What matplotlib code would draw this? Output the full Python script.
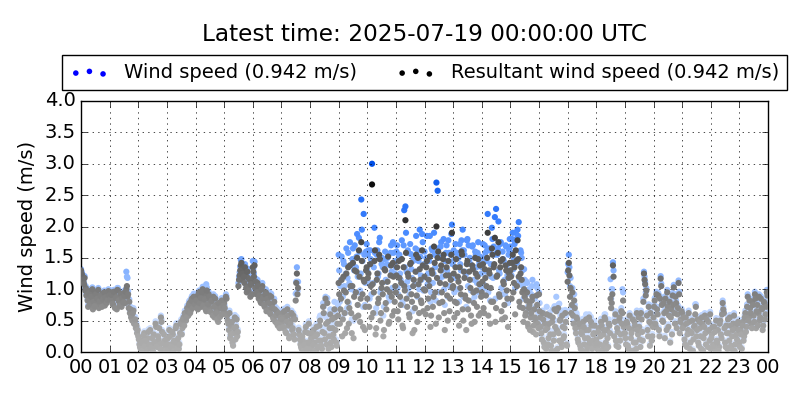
import numpy as np
import matplotlib
matplotlib.use('Agg')
import matplotlib.pyplot as plt
from matplotlib.colors import LinearSegmentedColormap

# samples, 24 per hour (every 2.5 min, on the :00 grid)
resultant = [
    # 00
    1.30, 1.22, 1.12, 1.18, 1.02, 0.95, 0.72, 0.97, 0.84, 0.92, 0.68, 0.87, 0.95, 0.78, 0.90, 0.70, 0.76, 0.88, 0.93, 0.82, 0.74, 0.79, 0.91, 0.97,
    # 01
    0.88, 0.95, 0.82, 0.75, 0.92, 0.86, 0.68, 0.98, 0.80, 0.90, 0.72, 0.85, 0.94, 0.78, 1.00, 0.88, 0.70, 0.62, 0.55, 0.50, 0.66, 0.48, 0.38, 0.30,
    # 02
    0.25, 0.12, 0.05, 0.18, 0.08, 0.30, 0.02, 0.14, 0.22, 0.06, 0.35, 0.10, 0.03, 0.28, 0.15, 0.40, 0.08, 0.20, 0.12, 0.55, 0.32, 0.04, 0.18, 0.10,
    # 03
    0.06, 0.22, 0.35, 0.12, 0.02, 0.28, 0.18, 0.08, 0.42, 0.15, 0.05, 0.30, 0.48, 0.38, 0.55, 0.62, 0.50, 0.70, 0.58, 0.78, 0.66, 0.85, 0.72, 0.80,
    # 04
    0.75, 0.88, 0.68, 0.95, 0.82, 0.72, 1.00, 0.78, 0.90, 0.65, 0.85, 0.92, 0.70, 0.80, 0.62, 0.88, 0.55, 0.75, 0.66, 0.48, 0.72, 0.60, 0.82, 0.68,
    # 05
    0.78, 0.62, 0.85, 0.50, 0.35, 0.22, 0.42, 0.15, 0.30, 0.55, 0.40, 0.25, 1.05, 1.22, 1.38, 1.15, 1.30, 1.10, 1.25, 0.95, 1.18, 1.05, 0.88, 1.12,
    # 06
    1.35, 1.20, 1.02, 0.92, 1.10, 0.85, 0.98, 0.78, 1.05, 0.88, 0.72, 0.95, 0.82, 0.68, 0.90, 0.60, 0.75, 0.55, 0.80, 0.48, 0.65, 0.42, 0.58, 0.50,
    # 07
    0.45, 0.62, 0.38, 0.55, 0.30, 0.68, 0.42, 0.25, 0.50, 0.35, 0.58, 0.20, 0.82, 1.25, 1.02, 0.28, 0.12, 0.05, 0.18, 0.08, 0.32, 0.02, 0.15, 0.45,
    # 08
    0.10, 0.22, 0.04, 0.35, 0.15, 0.02, 0.28, 0.08, 0.42, 0.18, 0.05, 0.72, 0.30, 0.85, 0.12, 0.48, 0.25, 0.60, 0.08, 0.38, 0.20, 0.55, 0.15, 0.45,
    # 09
    1.10, 0.45, 0.85, 0.25, 1.20, 0.62, 0.95, 0.38, 1.35, 0.70, 1.05, 0.30, 1.42, 0.88, 0.55, 1.28, 0.75, 1.62, 0.48, 1.75, 0.92, 1.15, 0.35, 1.30,
    # 10
    0.85, 1.25, 0.40, 1.05, 2.67, 0.62, 1.45, 0.28, 1.15, 0.78, 1.55, 0.50, 1.02, 0.92, 0.35, 1.30, 0.68, 1.12, 0.45, 0.95, 1.38, 0.58, 1.20, 0.80,
    # 11
    0.95, 1.35, 0.52, 1.18, 0.75, 1.48, 0.38, 1.05, 2.10, 0.85, 1.25, 0.60, 1.40, 0.92, 0.30, 1.15, 0.70, 1.55, 0.48, 1.08, 1.32, 0.82, 1.62, 0.65,
    # 12
    1.20, 0.60, 1.45, 0.85, 1.05, 0.40, 1.30, 0.72, 1.68, 0.95, 2.00, 1.50, 0.55, 1.10, 1.38, 0.80, 1.55, 0.35, 1.22, 0.90, 1.45, 0.65, 1.15, 1.90,
    # 13
    1.05, 0.55, 1.35, 0.78, 1.20, 0.42, 1.02, 1.60, 0.68, 1.28, 0.90, 0.35, 1.45, 0.82, 1.15, 0.58, 1.38, 0.95, 0.48, 1.25, 0.72, 1.48, 1.08, 0.62,
    # 14
    0.95, 1.40, 0.62, 1.18, 1.05, 1.90, 1.30, 0.45, 0.80, 1.55, 1.35, 1.82, 0.70, 1.22, 1.75, 0.88, 1.45, 0.52, 1.12, 0.75, 1.38, 0.98, 0.40, 1.25,
    # 15
    1.30, 0.85, 1.55, 1.10, 0.60, 1.45, 1.78, 1.20, 0.72, 1.35, 0.95, 0.48, 0.88, 0.62, 0.95, 0.40, 0.75, 0.55, 0.82, 0.32, 0.68, 0.50, 0.90, 0.45,
    # 16
    0.92, 0.55, 0.30, 0.62, 0.15, 0.45, 0.05, 0.38, 0.22, 0.58, 0.10, 0.48, 0.28, 0.68, 0.02, 0.35, 0.70, 0.18, 0.52, 0.08, 0.40, 0.25, 0.62, 0.12,
    # 17
    1.12, 1.42, 0.88, 0.62, 0.95, 0.45, 0.70, 0.30, 0.52, 0.15, 0.40, 0.05, 0.28, 0.48, 0.12, 0.35, 0.02, 0.22, 0.55, 0.10, 0.42, 0.18, 0.30, 0.08,
    # 18
    0.20, 0.05, 0.38, 0.12, 0.48, 0.02, 0.28, 0.55, 0.15, 0.35, 0.08, 0.42, 0.85, 0.78, 1.38, 0.25, 0.60, 0.10, 0.32, 0.50, 0.18, 0.65, 0.62, 0.40,
    # 19
    0.30, 0.12, 0.45, 0.05, 0.58, 0.22, 0.35, 0.02, 0.48, 0.15, 0.62, 0.28, 0.40, 0.08, 0.52, 0.18, 1.25, 1.08, 0.98, 0.35, 0.72, 0.10, 0.45, 0.25,
    # 20
    0.55, 0.82, 0.40, 0.68, 0.90, 0.25, 1.17, 0.75, 0.48, 0.62, 0.85, 0.35, 0.72, 0.58, 0.15, 0.68, 0.90, 1.03, 0.45, 0.78, 0.60, 1.10, 0.30, 0.52,
    # 21
    0.62, 0.42, 0.20, 0.55, 0.08, 0.35, 0.48, 0.15, 0.30, 0.02, 0.40, 0.60, 0.25, 0.52, 0.10, 0.38, 0.05, 0.45, 0.22, 0.58, 0.12, 0.33, 0.48, 0.18,
    # 22
    0.05, 0.28, 0.12, 0.40, 0.02, 0.18, 0.35, 0.08, 0.50, 0.22, 0.78, 0.62, 0.15, 0.42, 0.05, 0.30, 0.55, 0.10, 0.25, 0.45, 0.02, 0.38, 0.20, 0.48,
    # 23
    0.15, 0.35, 0.05, 0.48, 0.25, 0.62, 0.40, 0.88, 0.55, 0.70, 0.45, 0.80, 0.58, 0.92, 0.38, 0.75, 0.62, 0.50, 0.85, 0.68, 0.42, 0.78, 0.60, 0.95,
]

wind = [
    # 00
    1.32, 1.25, 1.14, 1.21, 1.05, 0.97, 0.75, 1.00, 0.86, 0.95, 0.70, 0.90, 0.98, 0.80, 0.93, 0.72, 0.78, 0.91, 0.96, 0.84, 0.77, 0.82, 0.94, 1.00,
    # 01
    0.91, 0.98, 0.85, 0.78, 0.95, 0.89, 0.71, 1.02, 0.83, 0.93, 0.75, 0.88, 0.97, 0.81, 1.28, 1.18, 0.74, 0.66, 0.59, 0.55, 0.70, 0.52, 0.42, 0.33,
    # 02
    0.28, 0.14, 0.07, 0.21, 0.10, 0.33, 0.04, 0.17, 0.25, 0.08, 0.38, 0.13, 0.05, 0.31, 0.18, 0.44, 0.10, 0.23, 0.14, 0.58, 0.35, 0.06, 0.21, 0.12,
    # 03
    0.08, 0.25, 0.38, 0.15, 0.04, 0.31, 0.21, 0.10, 0.46, 0.18, 0.07, 0.33, 0.52, 0.41, 0.59, 0.66, 0.54, 0.74, 0.62, 0.82, 0.70, 0.89, 0.76, 0.84,
    # 04
    0.78, 0.92, 0.71, 0.98, 0.86, 0.75, 1.04, 0.81, 0.94, 1.08, 0.89, 0.96, 0.73, 0.84, 0.66, 0.92, 0.59, 0.79, 0.70, 0.52, 0.76, 0.64, 0.86, 0.72,
    # 05
    0.82, 0.66, 0.89, 0.54, 0.39, 0.25, 0.46, 0.18, 0.34, 0.59, 0.44, 0.29, 1.10, 1.27, 1.47, 1.20, 1.35, 1.15, 1.30, 1.00, 1.23, 1.10, 0.93, 1.17,
    # 06
    1.45, 1.25, 1.07, 0.97, 1.15, 0.90, 1.03, 0.83, 1.10, 0.93, 0.77, 1.00, 0.87, 0.73, 0.95, 0.65, 0.80, 0.60, 0.85, 0.53, 0.70, 0.47, 0.63, 0.55,
    # 07
    0.49, 0.66, 0.42, 0.59, 0.34, 0.72, 0.46, 0.29, 0.54, 0.39, 0.62, 0.24, 0.93, 1.35, 1.12, 0.32, 0.15, 0.08, 0.21, 0.11, 0.36, 0.05, 0.18, 0.49,
    # 08
    0.13, 0.26, 0.07, 0.40, 0.19, 0.05, 0.33, 0.11, 0.55, 0.22, 0.08, 0.78, 0.36, 0.88, 0.16, 0.60, 0.30, 0.68, 0.12, 0.45, 0.25, 0.65, 0.20, 0.58,
    # 09
    1.55, 0.80, 1.15, 0.55, 1.45, 1.05, 1.25, 0.70, 1.58, 1.10, 1.38, 0.52, 1.65, 1.30, 0.95, 1.52, 1.20, 1.82, 0.98, 2.43, 1.45, 2.20, 0.75, 1.60,
    # 10
    1.30, 1.62, 0.85, 1.48, 3.00, 1.10, 1.98, 0.62, 1.55, 1.20, 1.75, 0.95, 1.40, 1.35, 0.72, 1.60, 1.12, 1.50, 0.88, 1.38, 1.70, 1.02, 1.58, 1.25,
    # 11
    1.35, 1.70, 0.92, 1.55, 1.15, 1.78, 0.75, 2.26, 2.32, 1.28, 1.62, 1.02, 1.72, 1.32, 0.65, 1.50, 1.08, 1.85, 0.88, 1.45, 1.95, 1.22, 1.88, 0.98,
    # 12
    1.60, 1.00, 1.85, 1.25, 1.45, 0.80, 1.65, 1.10, 1.90, 1.35, 2.70, 2.57, 0.95, 1.50, 1.75, 1.20, 1.80, 0.75, 1.58, 1.30, 1.78, 1.05, 1.55, 2.03,
    # 13
    1.45, 0.95, 1.72, 1.18, 1.58, 0.80, 1.40, 1.78, 1.95, 1.62, 1.28, 0.72, 1.80, 1.70, 1.50, 0.98, 1.68, 1.32, 0.88, 1.55, 1.10, 1.75, 1.42, 1.02,
    # 14
    1.35, 1.72, 1.02, 1.58, 1.45, 2.20, 1.65, 0.82, 1.20, 1.80, 1.68, 2.15, 2.28, 1.55, 2.08, 1.25, 1.75, 0.92, 1.48, 1.15, 1.70, 1.38, 0.78, 1.62,
    # 15
    1.68, 1.22, 1.90, 1.48, 1.02, 1.80, 1.95, 2.07, 1.12, 1.58, 1.30, 0.85, 1.15, 0.92, 1.10, 0.68, 0.98, 0.80, 1.05, 0.55, 0.88, 0.72, 1.08, 0.65,
    # 16
    0.95, 0.60, 0.34, 0.66, 0.18, 0.50, 0.08, 0.42, 0.26, 0.63, 0.13, 0.52, 0.32, 0.73, 0.05, 0.39, 0.75, 0.77, 0.57, 0.11, 0.44, 0.29, 0.67, 0.15,
    # 17
    1.27, 1.55, 1.05, 0.68, 1.02, 0.50, 0.75, 0.34, 0.57, 0.18, 0.44, 0.08, 0.32, 0.53, 0.15, 0.39, 0.05, 0.26, 0.60, 0.13, 0.46, 0.21, 0.34, 0.11,
    # 18
    0.24, 0.08, 0.42, 0.15, 0.53, 0.05, 0.32, 0.60, 0.18, 0.39, 0.11, 0.46, 1.16, 1.00, 1.43, 0.29, 0.65, 0.13, 0.36, 0.55, 0.21, 0.70, 1.00, 0.44,
    # 19
    0.34, 0.15, 0.49, 0.08, 0.62, 0.26, 0.39, 0.05, 0.52, 0.18, 0.66, 0.32, 0.44, 0.11, 0.56, 0.21, 1.28, 1.12, 1.02, 0.39, 0.76, 0.13, 0.49, 0.29,
    # 20
    0.59, 0.86, 0.44, 0.72, 0.94, 0.29, 1.21, 0.79, 0.52, 0.66, 0.89, 0.39, 0.76, 0.62, 0.18, 0.72, 0.94, 1.07, 0.49, 0.82, 0.64, 1.14, 0.34, 0.56,
    # 21
    0.66, 0.46, 0.24, 0.59, 0.11, 0.39, 0.52, 0.18, 0.34, 0.05, 0.44, 0.76, 0.29, 0.56, 0.13, 0.42, 0.08, 0.49, 0.26, 0.62, 0.15, 0.37, 0.52, 0.21,
    # 22
    0.08, 0.32, 0.15, 0.44, 0.05, 0.21, 0.39, 0.11, 0.54, 0.26, 0.82, 0.66, 0.18, 0.46, 0.08, 0.34, 0.59, 0.13, 0.29, 0.49, 0.05, 0.42, 0.24, 0.52,
    # 23
    0.18, 0.39, 0.08, 0.52, 0.29, 0.66, 0.44, 0.92, 0.59, 0.74, 0.49, 0.84, 0.62, 0.96, 0.42, 0.79, 0.66, 0.54, 0.89, 0.72, 0.46, 0.82, 0.64, 0.99,
]

# the samples in between (1.25 min later than the ones above)
resultant_mid = [
    # 00
    1.25, 1.15, 1.08, 0.98, 0.90, 0.82, 0.94, 0.76, 0.88, 1.00, 0.80, 0.73, 0.92, 0.85, 0.99, 0.81, 0.89, 0.72, 0.84, 0.95, 0.87, 0.78, 0.83, 0.90,
    # 01
    0.84, 0.91, 0.77, 0.96, 0.70, 0.87, 0.99, 0.82, 0.74, 0.93, 0.86, 0.79, 0.90, 0.96, 1.05, 0.92, 0.80, 0.68, 0.58, 0.62, 0.45, 0.52, 0.42, 0.35,
    # 02
    0.20, 0.08, 0.15, 0.02, 0.26, 0.10, 0.18, 0.04, 0.32, 0.12, 0.07, 0.22, 0.00, 0.16, 0.45, 0.09, 0.25, 0.38, 0.05, 0.48, 0.14, 0.28, 0.02, 0.20,
    # 03
    0.12, 0.03, 0.25, 0.09, 0.32, 0.01, 0.16, 0.38, 0.06, 0.22, 0.12, 0.45, 0.28, 0.52, 0.42, 0.60, 0.55, 0.65, 0.75, 0.62, 0.82, 0.70, 0.88, 0.76,
    # 04
    0.82, 0.70, 0.92, 0.78, 0.86, 0.95, 0.74, 0.84, 0.68, 0.98, 0.76, 0.88, 0.64, 0.82, 0.58, 0.72, 0.85, 0.62, 0.52, 0.78, 0.56, 0.70, 0.60, 0.74,
    # 05
    0.70, 0.88, 0.58, 0.45, 0.62, 0.28, 0.48, 0.10, 0.38, 0.20, 0.52, 0.32, 1.15, 1.30, 1.42, 1.25, 1.20, 1.35, 1.02, 1.28, 0.98, 1.15, 1.08, 0.92,
    # 06
    1.28, 1.38, 1.12, 0.95, 1.05, 0.90, 0.80, 1.00, 0.86, 0.75, 0.92, 0.65, 0.85, 0.78, 0.62, 0.88, 0.70, 0.52, 0.68, 0.58, 0.45, 0.62, 0.38, 0.55,
    # 07
    0.52, 0.40, 0.65, 0.32, 0.48, 0.58, 0.22, 0.45, 0.62, 0.38, 0.28, 0.52, 1.10, 0.92, 0.35, 0.20, 0.08, 0.25, 0.02, 0.12, 0.40, 0.05, 0.30, 0.15,
    # 08
    0.05, 0.30, 0.12, 0.02, 0.25, 0.40, 0.08, 0.18, 0.50, 0.10, 0.32, 0.62, 0.20, 0.45, 0.78, 0.05, 0.38, 0.15, 0.52, 0.28, 0.68, 0.35, 0.10, 0.58,
    # 09
    0.92, 0.68, 1.15, 0.52, 0.98, 0.30, 1.25, 0.80, 0.45, 1.38, 0.62, 1.05, 0.22, 1.30, 0.95, 1.50, 0.58, 1.20, 0.85, 1.45, 0.40, 1.12, 0.72, 1.35,
    # 10
    1.18, 0.72, 1.40, 0.55, 1.08, 0.95, 1.62, 0.38, 1.25, 0.85, 1.48, 0.62, 1.10, 0.25, 1.32, 0.78, 1.00, 1.52, 0.48, 1.22, 0.88, 1.42, 0.65, 1.05,
    # 11
    1.22, 0.65, 1.45, 0.88, 1.10, 0.42, 1.35, 0.98, 1.58, 0.72, 1.20, 0.55, 1.42, 0.80, 1.05, 0.35, 1.28, 0.90, 1.50, 0.62, 1.15, 0.78, 1.38, 1.00,
    # 12
    0.98, 1.35, 0.70, 1.15, 1.52, 0.58, 1.25, 0.88, 1.42, 0.45, 1.18, 1.60, 0.78, 1.30, 0.95, 1.48, 0.62, 1.08, 1.35, 0.50, 1.22, 0.85, 1.55, 1.02,
    # 13
    1.25, 0.80, 1.48, 0.62, 1.12, 1.35, 0.92, 1.55, 0.50, 1.18, 0.85, 1.40, 0.68, 1.28, 1.02, 0.45, 1.32, 0.78, 1.50, 0.98, 1.20, 0.58, 1.38, 0.88,
    # 14
    1.12, 0.70, 1.32, 0.90, 1.50, 0.58, 1.25, 1.02, 1.65, 0.80, 1.40, 0.48, 1.20, 1.58, 0.92, 1.35, 0.65, 1.48, 1.08, 0.55, 1.30, 0.85, 1.18, 1.42,
    # 15
    1.20, 1.42, 0.95, 1.35, 1.62, 1.05, 1.48, 0.80, 1.25, 1.15, 0.70, 1.00, 0.58, 0.82, 0.45, 0.70, 0.35, 0.62, 0.88, 0.42, 0.55, 0.28, 0.75, 0.38,
    # 16
    0.65, 0.40, 0.20, 0.52, 0.08, 0.35, 0.60, 0.12, 0.45, 0.28, 0.02, 0.55, 0.18, 0.40, 0.65, 0.05, 0.30, 0.50, 0.15, 0.58, 0.22, 0.38, 0.48, 0.10,
    # 17
    1.30, 1.22, 1.02, 0.75, 0.58, 0.82, 0.38, 0.55, 0.20, 0.45, 0.10, 0.32, 0.02, 0.40, 0.22, 0.52, 0.08, 0.35, 0.15, 0.48, 0.05, 0.28, 0.42, 0.12,
    # 18
    0.15, 0.32, 0.02, 0.25, 0.42, 0.10, 0.35, 0.52, 0.05, 0.22, 0.45, 0.30, 0.70, 0.92, 1.20, 0.48, 0.18, 0.38, 0.08, 0.55, 0.28, 0.45, 0.82, 0.30,
    # 19
    0.22, 0.48, 0.10, 0.38, 0.02, 0.30, 0.52, 0.15, 0.42, 0.05, 0.35, 0.55, 0.20, 0.62, 0.32, 0.80, 1.15, 0.90, 0.58, 0.25, 0.48, 0.62, 0.18, 0.40,
    # 20
    0.72, 0.45, 0.92, 0.60, 0.35, 0.85, 1.05, 0.50, 0.78, 0.22, 0.65, 0.95, 0.40, 0.80, 0.55, 0.28, 0.75, 0.62, 0.88, 0.38, 0.70, 0.92, 0.48, 0.65,
    # 21
    0.38, 0.55, 0.12, 0.45, 0.28, 0.62, 0.05, 0.32, 0.50, 0.20, 0.42, 0.72, 0.35, 0.15, 0.48, 0.25, 0.55, 0.02, 0.40, 0.30, 0.52, 0.08, 0.35, 0.60,
    # 22
    0.22, 0.40, 0.10, 0.32, 0.50, 0.15, 0.02, 0.45, 0.28, 0.60, 0.68, 0.38, 0.08, 0.30, 0.52, 0.18, 0.42, 0.05, 0.35, 0.58, 0.12, 0.28, 0.45, 0.35,
    # 23
    0.08, 0.28, 0.42, 0.18, 0.55, 0.32, 0.72, 0.50, 0.82, 0.62, 0.38, 0.75, 0.48, 0.85, 0.65, 0.42, 0.88, 0.55, 0.70, 0.35, 0.80, 0.52, 0.72, 0.90,
]

wind_mid = [
    # 00
    1.28, 1.18, 1.10, 1.01, 0.93, 0.85, 0.97, 0.79, 0.90, 1.03, 0.83, 0.76, 0.95, 0.88, 1.02, 0.84, 0.92, 0.75, 0.87, 0.98, 0.90, 0.81, 0.86, 0.93,
    # 01
    0.87, 0.94, 0.80, 0.99, 0.73, 0.90, 1.02, 0.85, 0.77, 0.96, 0.89, 0.82, 0.93, 1.00, 1.20, 0.97, 0.84, 0.72, 0.62, 0.66, 0.49, 0.56, 0.46, 0.38,
    # 02
    0.23, 0.10, 0.18, 0.04, 0.29, 0.13, 0.21, 0.06, 0.36, 0.15, 0.09, 0.25, 0.02, 0.19, 0.49, 0.11, 0.28, 0.42, 0.07, 0.52, 0.17, 0.31, 0.04, 0.23,
    # 03
    0.15, 0.05, 0.28, 0.11, 0.36, 0.03, 0.19, 0.42, 0.08, 0.25, 0.15, 0.49, 0.31, 0.56, 0.46, 0.64, 0.59, 0.69, 0.80, 0.66, 0.86, 0.74, 0.93, 0.80,
    # 04
    0.86, 0.74, 0.96, 0.82, 0.90, 1.00, 0.78, 0.88, 0.72, 1.03, 0.80, 0.92, 0.68, 0.86, 0.62, 0.76, 0.89, 0.66, 0.56, 0.82, 0.60, 0.74, 0.64, 0.78,
    # 05
    0.74, 0.92, 0.62, 0.49, 0.66, 0.31, 0.52, 0.13, 0.42, 0.23, 0.56, 0.36, 1.20, 1.36, 1.48, 1.30, 1.25, 1.40, 1.07, 1.33, 1.03, 1.20, 1.13, 0.97,
    # 06
    1.33, 1.44, 1.17, 1.00, 1.10, 0.95, 0.85, 1.05, 0.91, 0.80, 0.97, 0.70, 0.90, 0.83, 0.67, 0.93, 0.75, 0.57, 0.73, 0.63, 0.50, 0.67, 0.42, 0.60,
    # 07
    0.56, 0.44, 0.69, 0.36, 0.52, 0.62, 0.26, 0.49, 0.66, 0.42, 0.32, 0.56, 1.12, 0.97, 0.39, 0.24, 0.11, 0.29, 0.05, 0.15, 0.44, 0.08, 0.34, 0.18,
    # 08
    0.08, 0.34, 0.15, 0.05, 0.29, 0.45, 0.11, 0.22, 0.58, 0.14, 0.38, 0.72, 0.25, 0.55, 0.86, 0.09, 0.46, 0.20, 0.65, 0.34, 0.80, 0.45, 0.15, 0.75,
    # 09
    1.30, 1.05, 1.52, 0.88, 1.40, 0.62, 1.65, 1.18, 0.78, 1.75, 1.00, 1.48, 0.50, 1.70, 1.35, 1.88, 0.95, 1.60, 1.25, 1.95, 0.72, 1.55, 1.10, 1.72,
    # 10
    1.55, 1.10, 1.62, 0.92, 1.45, 1.35, 1.58, 0.70, 1.62, 1.25, 1.82, 1.00, 1.50, 0.58, 1.48, 1.15, 1.40, 1.55, 0.82, 1.58, 1.28, 1.75, 1.02, 1.45,
    # 11
    1.60, 1.02, 1.52, 1.25, 1.48, 0.80, 1.70, 1.35, 1.90, 1.12, 1.58, 0.92, 1.56, 1.18, 1.45, 0.70, 1.65, 1.28, 1.62, 1.00, 1.52, 1.15, 1.75, 1.40,
    # 12
    1.38, 1.50, 1.08, 1.50, 1.85, 0.95, 1.62, 1.25, 1.55, 0.82, 1.55, 1.65, 1.15, 1.68, 1.30, 1.52, 1.00, 1.45, 1.70, 0.88, 1.58, 1.22, 1.88, 1.40,
    # 13
    1.62, 1.18, 1.58, 1.00, 1.50, 1.72, 1.30, 1.62, 0.88, 1.55, 1.22, 1.78, 1.05, 1.45, 1.40, 0.82, 1.70, 1.15, 1.60, 1.35, 1.58, 0.95, 1.52, 1.25,
    # 14
    1.50, 1.08, 1.70, 1.28, 1.62, 0.95, 1.62, 1.40, 1.98, 1.18, 1.55, 0.85, 1.58, 1.65, 1.30, 1.72, 1.02, 1.60, 1.45, 0.92, 1.68, 1.22, 1.55, 1.80,
    # 15
    1.58, 1.80, 1.32, 1.72, 1.90, 1.42, 1.85, 1.15, 1.62, 1.50, 1.05, 1.32, 0.90, 1.12, 0.72, 1.00, 0.60, 0.92, 1.15, 0.68, 0.85, 0.50, 1.02, 0.62,
    # 16
    0.78, 0.48, 0.25, 0.60, 0.12, 0.42, 0.72, 0.16, 0.55, 0.34, 0.05, 0.68, 0.22, 0.50, 0.88, 0.08, 0.36, 0.62, 0.19, 0.66, 0.27, 0.45, 0.58, 0.14,
    # 17
    1.40, 1.35, 1.18, 0.90, 0.66, 0.92, 0.44, 0.62, 0.25, 0.52, 0.14, 0.38, 0.05, 0.47, 0.27, 0.60, 0.11, 0.41, 0.19, 0.56, 0.08, 0.33, 0.49, 0.16,
    # 18
    0.19, 0.37, 0.05, 0.30, 0.48, 0.14, 0.40, 0.60, 0.08, 0.27, 0.52, 0.35, 0.85, 1.00, 1.30, 0.55, 0.22, 0.44, 0.11, 0.62, 0.33, 0.52, 0.95, 0.35,
    # 19
    0.26, 0.52, 0.13, 0.42, 0.05, 0.34, 0.57, 0.18, 0.46, 0.08, 0.39, 0.60, 0.24, 0.66, 0.36, 0.85, 1.20, 0.95, 0.62, 0.29, 0.52, 0.66, 0.21, 0.44,
    # 20
    0.76, 0.49, 0.96, 0.64, 0.39, 0.89, 1.09, 0.54, 0.82, 0.26, 0.69, 0.99, 0.44, 0.84, 0.59, 0.32, 0.79, 0.66, 0.92, 0.42, 0.74, 0.96, 0.52, 0.69,
    # 21
    0.42, 0.59, 0.15, 0.49, 0.32, 0.66, 0.08, 0.36, 0.54, 0.24, 0.46, 0.76, 0.39, 0.18, 0.52, 0.29, 0.59, 0.05, 0.44, 0.34, 0.56, 0.11, 0.39, 0.64,
    # 22
    0.26, 0.44, 0.13, 0.36, 0.54, 0.18, 0.05, 0.49, 0.32, 0.64, 0.72, 0.42, 0.11, 0.34, 0.56, 0.21, 0.46, 0.08, 0.39, 0.62, 0.15, 0.32, 0.49, 0.39,
    # 23
    0.11, 0.32, 0.46, 0.21, 0.59, 0.36, 0.76, 0.54, 0.86, 0.66, 0.42, 0.79, 0.52, 0.89, 0.69, 0.46, 0.92, 0.59, 0.74, 0.39, 0.84, 0.56, 0.76, 0.94,
]

hour_labels = ['00', '01', '02', '03', '04', '05', '06', '07', '08', '09', '10', '11',
               '12', '13', '14', '15', '16', '17', '18', '19', '20', '21', '22', '23', '00']
y_ticks = [0.0, 0.5, 1.0, 1.5, 2.0, 2.5, 3.0, 3.5, 4.0]

title = 'Latest time: 2025-07-19 00:00:00 UTC'
wind_label = 'Wind speed (0.942 m/s)'
resultant_label = 'Resultant wind speed (0.942 m/s)'

for series in (wind, resultant, wind_mid, resultant_mid):
    assert len(series) == 576, len(series)

plt.style.use('classic')
plt.rcParams['font.family'] = ['DejaVu Sans']
plt.rcParams['font.size'] = 14

# sample times in hours since midnight
hours = np.arange(len(wind)) * 2.5 / 60.0
hours_mid = hours + 1.25 / 60.0
all_hours = np.concatenate([hours, hours_mid])
all_wind = np.concatenate([wind, wind_mid])
all_resultant = np.concatenate([resultant, resultant_mid])

# colour gets stronger with the speed
blue_cmap = LinearSegmentedColormap.from_list(
    'wind', [(0, '#dde9ff'), (0.17, '#c6daff'), (0.4, '#8fb8ff'), (0.67, '#3f84ff'), (1, '#004fe6')])
gray_cmap = LinearSegmentedColormap.from_list(
    'resultant', [(0, '#afafaf'), (0.1, '#a8a8a8'), (0.36, '#797979'), (0.71, '#383838'), (1, '#050505')])

fig = plt.figure(figsize=(8, 4), dpi=100, facecolor='white')
ax = fig.add_axes([0.10125, 0.12, 0.85875, 0.6275])

ax.scatter(all_hours, all_wind, c=all_wind, cmap=blue_cmap, vmin=0, vmax=3.0,
           s=20, edgecolors='none', zorder=2)
ax.scatter(all_hours, all_resultant, c=all_resultant, cmap=gray_cmap, vmin=0, vmax=2.8,
           s=20, edgecolors='none', zorder=3)

ax.set_xlim(0, 24)
ax.set_ylim(0, 4)
ax.set_xticks(range(len(hour_labels)))
ax.set_xticklabels(hour_labels)
ax.set_yticks(y_ticks)
ax.grid(True)
ax.set_ylabel('Wind speed (m/s)')

# legend proxies in plain blue / black like the original
h1 = ax.scatter([], [], s=16, color='blue', edgecolors='none', label=wind_label)
h2 = ax.scatter([], [], s=16, color='black', edgecolors='none', label=resultant_label)
ax.legend(handles=[h1, h2], loc='lower center', bbox_to_anchor=(0.5, 1.044),
          ncol=2, fontsize=14, borderaxespad=0.0)

ax.text(0.5, 1.263, title, transform=ax.transAxes, ha='center', va='center', fontsize=16.7)

fig.savefig('out.png', dpi=100, facecolor='white')
